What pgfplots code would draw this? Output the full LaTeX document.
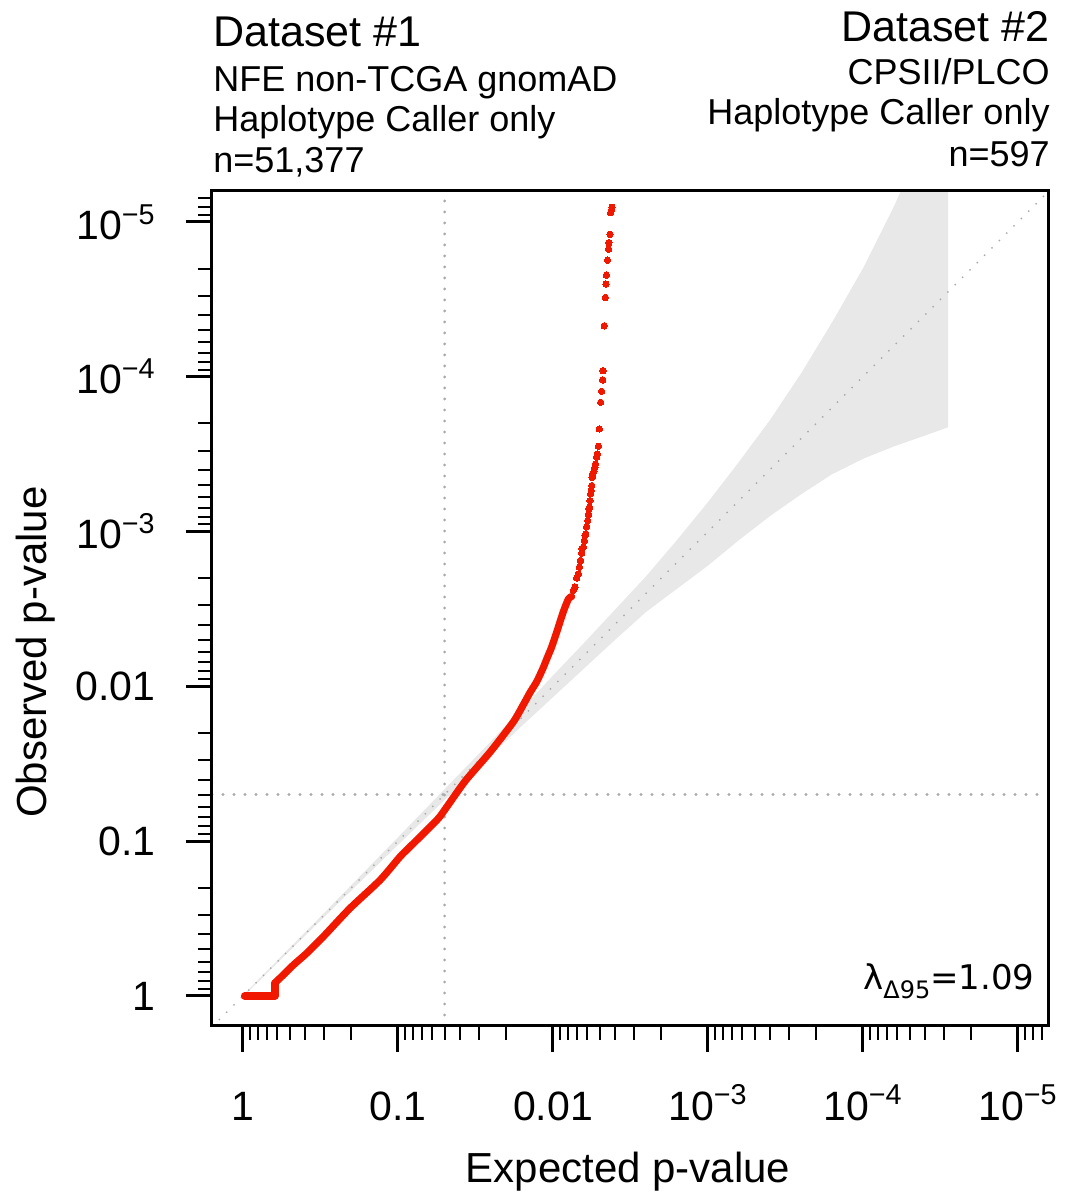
\documentclass[border=0pt]{standalone}
\usepackage{pgfplots}
\pgfplotsset{compat=1.18}
\usepackage{fontspec}
\setmainfont{Liberation Sans}
\newfontfamily\djv{DejaVu Sans}
\definecolor{qqred}{RGB}{240,25,0}
\definecolor{bandgray}{RGB}{232,232,232}
\definecolor{refgray}{RGB}{170,170,170}
\begin{document}
\begin{tikzpicture}
\useasboundingbox (-106pt,-83pt) rectangle (430.5pt,513pt);
\begin{axis}[
  at={(0,0)}, anchor=south west,
  scale only axis, width=418pt, height=417.5pt,
  xmin=-0.2, xmax=5.194, ymin=-0.194, ymax=5.2,
  xtick={0,1,2,3,4,5}, ytick={0,1,2,3,4,5},
  xticklabels={1,0.1,0.01,10\textsuperscript{−3},10\textsuperscript{−4},10\textsuperscript{−5}},
  yticklabels={1,0.1,0.01,10\textsuperscript{−3},10\textsuperscript{−4},10\textsuperscript{−5}},
  minor xtick={0.04576,0.09691,0.15490,0.22185,0.30103,0.39794,0.52288,0.69897,
    1.04576,1.09691,1.15490,1.22185,1.30103,1.39794,1.52288,1.69897,
    2.04576,2.09691,2.15490,2.22185,2.30103,2.39794,2.52288,2.69897,
    3.04576,3.09691,3.15490,3.22185,3.30103,3.39794,3.52288,3.69897,
    4.04576,4.09691,4.15490,4.22185,4.30103,4.39794,4.52288,4.69897,
    5.04576,5.09691,5.15490},
  minor ytick={0.04576,0.09691,0.15490,0.22185,0.30103,0.39794,0.52288,0.69897,
    1.04576,1.09691,1.15490,1.22185,1.30103,1.39794,1.52288,1.69897,
    2.04576,2.09691,2.15490,2.22185,2.30103,2.39794,2.52288,2.69897,
    3.04576,3.09691,3.15490,3.22185,3.30103,3.39794,3.52288,3.69897,
    4.04576,4.09691,4.15490,4.22185,4.30103,4.39794,4.52288,4.69897,
    5.04576,5.09691,5.15490},
  tick align=outside, xtick pos=bottom, ytick pos=left,
  major tick length=13pt, minor tick length=7pt,
  every major tick/.append style={line width=1.5pt, black},
  every minor tick/.append style={line width=1pt, black},
  axis line style={line width=1.5pt},
  tick label style={font=\fontsize{20.5}{24}\selectfont, inner sep=0pt},
  xticklabel style={anchor=base},
  xticklabel shift=34pt,
  yticklabel style={anchor=east},
  yticklabel shift=15pt,
  axis on top,
]
% confidence band: upper edge left to right, then lower edge right to left
\addplot[fill=bandgray, draw=none] table {
x y
0 0.005
0.5 0.512
1.0 1.025
1.3 1.335
1.6 1.645
1.8 1.855
2.0 2.07
2.2 2.28
2.4 2.495
2.6 2.71
2.8 2.945
3.0 3.19
3.2 3.45
3.4 3.72
3.6 4.02
3.8 4.35
4.0 4.70
4.2 5.10
4.4 5.55
4.55 5.95
4.55 3.674
4.4 3.62
4.2 3.55
4.0 3.47
3.8 3.37
3.6 3.24
3.4 3.10
3.2 2.945
3.0 2.78
2.8 2.63
2.6 2.48
2.4 2.30
2.2 2.115
2.0 1.93
1.8 1.745
1.6 1.555
1.3 1.265
1.0 0.975
0.5 0.487
0 -0.005
};
% reference lines
\addplot[refgray, line width=1pt, line cap=round, dash pattern=on 0pt off 5.2pt] coordinates {(-0.2,-0.2) (5.2,5.2)};
\addplot[refgray, line width=1.6pt, line cap=round, dash pattern=on 0pt off 5.5pt] coordinates {(1.301,-0.194) (1.301,5.2)};
\addplot[refgray, line width=1.6pt, line cap=round, dash pattern=on 0pt off 5.5pt] coordinates {(-0.2,1.301) (5.194,1.301)};
% observed (dense part)
\addplot[qqred, line width=3.6pt, line cap=round, line join=round] coordinates {
(0.01,0.0) (0.206,0.0) (0.206,0.084)
};
\addplot[qqred, line width=3.6pt, line cap=round, line join=round, smooth, tension=0.4] coordinates {
(0.206,0.084) (0.26,0.136) (0.325,0.2) (0.411,0.276)
(0.518,0.383) (0.69,0.566) (0.884,0.748) (1.013,0.899) (1.077,0.963)
(1.25,1.135) (1.3,1.20) (1.37,1.30) (1.443,1.40) (1.594,1.575) (1.744,1.77)
(1.808,1.88) (1.852,1.96) (1.895,2.03) (1.937,2.12) (1.965,2.19) (1.99,2.25)
(2.024,2.35) (2.066,2.48) (2.10,2.565) (2.12,2.58)
};
% observed (sparse tail)
\addplot[qqred, only marks, mark=*, mark size=1.6pt, mark options={solid, draw=qqred, fill=qqred, line width=0pt}] coordinates {
(2.131,2.62) (2.142,2.641) (2.153,2.70) (2.164,2.727) (2.170,2.77) (2.178,2.813)
(2.185,2.86) (2.188,2.888) (2.196,2.899) (2.203,2.94) (2.207,2.974) (2.211,2.985)
(2.217,3.03) (2.224,3.071) (2.229,3.11) (2.233,3.146) (2.235,3.157) (2.239,3.20)
(2.243,3.243) (2.247,3.265) (2.250,3.297) (2.253,3.35) (2.256,3.372) (2.264,3.39)
(2.271,3.415) (2.274,3.437) (2.282,3.48) (2.286,3.50) (2.293,3.551) (2.299,3.663)
(2.308,3.835) (2.314,3.906) (2.321,3.979) (2.323,4.039) (2.331,4.329) (2.338,4.512)
(2.342,4.598) (2.345,4.656) (2.352,4.753) (2.359,4.824) (2.361,4.866) (2.368,4.92)
(2.372,5.06) (2.378,5.08) (2.381,5.095)
};
\end{axis}
% axis labels
\node[anchor=base, font=\fontsize{21}{25}\selectfont] at (208pt,-78pt) {Expected p-value};
\node[anchor=base, rotate=90, font=\fontsize{21}{25}\selectfont] at (-82.5pt,187pt) {Observed p-value};
% titles
\node[anchor=base west, inner sep=0pt, font=\fontsize{21.5}{26}\selectfont] at (0.5pt,489.5pt) {Dataset \#1};
\node[anchor=base west, inner sep=0pt, font=\fontsize{18}{22}\selectfont] at (0.5pt,467pt) {NFE non-TCGA gnomAD};
\node[anchor=base west, inner sep=0pt, font=\fontsize{18}{22}\selectfont] at (0.5pt,447pt) {Haplotype Caller only};
\node[anchor=base west, inner sep=0pt, font=\fontsize{18}{22}\selectfont] at (0.5pt,426.5pt) {n=51,377};
\node[anchor=base east, inner sep=0pt, font=\fontsize{21.5}{26}\selectfont] at (419pt,492pt) {Dataset \#2};
\node[anchor=base east, inner sep=0pt, font=\fontsize{18}{22}\selectfont] at (419pt,470.5pt) {CPSII/PLCO};
\node[anchor=base east, inner sep=0pt, font=\fontsize{18}{22}\selectfont] at (419pt,450.5pt) {Haplotype Caller only};
\node[anchor=base east, inner sep=0pt, font=\fontsize{18}{22}\selectfont] at (419pt,429.5pt) {n=597};
\node[anchor=base east, inner sep=0pt, font=\djv\fontsize{17}{20}\selectfont] at (411.5pt,18pt) {λ\raisebox{-0.45ex}{\fontsize{12}{14}\selectfont Δ95}=1.09};
\end{tikzpicture}
\end{document}
